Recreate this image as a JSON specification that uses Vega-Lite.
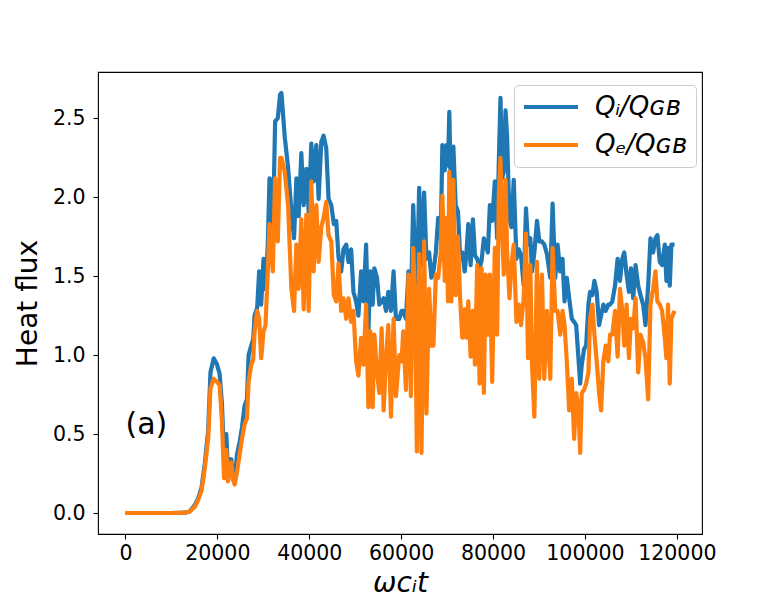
{
  "$schema": "https://vega.github.io/schema/vega-lite/v6.json",
  "width": 604,
  "height": 462,
  "autosize": {"type": "none"},
  "padding": {"left": 98, "top": 72, "right": 78, "bottom": 66},
  "background": "white",
  "config": {
    "font": "DejaVu Sans",
    "view": {"stroke": "black", "strokeWidth": 1.1},
    "axis": {
      "grid": false,
      "domain": false,
      "tickColor": "black",
      "tickWidth": 1.1,
      "tickSize": 5,
      "labelFontSize": 20.5,
      "labelColor": "black",
      "labelFont": "DejaVu Sans",
      "titleFont": "DejaVu Sans",
      "titleFontSize": 28,
      "titleFontWeight": "normal",
      "titleColor": "black"
    },
    "legend": {
      "orient": "none",
      "legendX": 416,
      "legendY": 13,
      "fillColor": "white",
      "strokeColor": "#cccccc",
      "cornerRadius": 4,
      "padding": 9,
      "labelFontSize": 26,
      "labelFont": "DejaVu Sans",
      "labelFontStyle": "italic",
      "labelColor": "black",
      "symbolType": "M-2.7,0H2.7",
      "symbolSize": 400,
      "symbolStrokeWidth": 4.2,
      "symbolOffset": 15,
      "labelOffset": 31,
      "rowPadding": 12
    }
  },
  "datasets": {
    "flux": [
      {"t": 0, "Qi": 0, "Qe": 0},
      {"t": 5000, "Qi": 0, "Qe": 0},
      {"t": 10000, "Qi": 0, "Qe": 0},
      {"t": 13000, "Qi": 0.002, "Qe": 0.002},
      {"t": 14000, "Qi": 0.01, "Qe": 0.01},
      {"t": 15100, "Qi": 0.05, "Qe": 0.04},
      {"t": 15800, "Qi": 0.09, "Qe": 0.08},
      {"t": 16550, "Qi": 0.16, "Qe": 0.14},
      {"t": 17260, "Qi": 0.31, "Qe": 0.28},
      {"t": 18000, "Qi": 0.52, "Qe": 0.47},
      {"t": 18500, "Qi": 0.89, "Qe": 0.79},
      {"t": 19200, "Qi": 0.98, "Qe": 0.85},
      {"t": 19930, "Qi": 0.94, "Qe": 0.83},
      {"t": 20500, "Qi": 0.88, "Qe": 0.81},
      {"t": 21000, "Qi": 0.69, "Qe": 0.58},
      {"t": 21450, "Qi": 0.37, "Qe": 0.22},
      {"t": 21950, "Qi": 0.5, "Qe": 0.4},
      {"t": 22300, "Qi": 0.27, "Qe": 0.2},
      {"t": 22680, "Qi": 0.34, "Qe": 0.26},
      {"t": 23050, "Qi": 0.34, "Qe": 0.32},
      {"t": 23400, "Qi": 0.24, "Qe": 0.21},
      {"t": 23770, "Qi": 0.19, "Qe": 0.18},
      {"t": 24270, "Qi": 0.37, "Qe": 0.26},
      {"t": 24850, "Qi": 0.45, "Qe": 0.37},
      {"t": 25350, "Qi": 0.54, "Qe": 0.47},
      {"t": 25930, "Qi": 0.68, "Qe": 0.56},
      {"t": 26440, "Qi": 0.72, "Qe": 0.6},
      {"t": 26800, "Qi": 1.0, "Qe": 0.83},
      {"t": 27370, "Qi": 1.06, "Qe": 0.94},
      {"t": 27800, "Qi": 1.1, "Qe": 0.97},
      {"t": 28100, "Qi": 1.25, "Qe": 1.15},
      {"t": 28670, "Qi": 1.3, "Qe": 1.28},
      {"t": 29100, "Qi": 1.53, "Qe": 1.23},
      {"t": 29540, "Qi": 1.32, "Qe": 0.98},
      {"t": 30050, "Qi": 1.61, "Qe": 1.15},
      {"t": 30480, "Qi": 1.42, "Qe": 1.19},
      {"t": 30980, "Qi": 1.7, "Qe": 1.53},
      {"t": 31350, "Qi": 2.12, "Qe": 1.83},
      {"t": 31700, "Qi": 2.1, "Qe": 1.7},
      {"t": 32070, "Qi": 1.74, "Qe": 1.53},
      {"t": 32570, "Qi": 2.48, "Qe": 2.12},
      {"t": 33150, "Qi": 2.5, "Qe": 1.72},
      {"t": 33650, "Qi": 2.65, "Qe": 2.25},
      {"t": 33950, "Qi": 2.66, "Qe": 2.25},
      {"t": 34670, "Qi": 2.38, "Qe": 2.16},
      {"t": 35390, "Qi": 2.19, "Qe": 1.95},
      {"t": 36110, "Qi": 1.91, "Qe": 1.42},
      {"t": 36690, "Qi": 1.74, "Qe": 1.28},
      {"t": 37200, "Qi": 2.12, "Qe": 1.7},
      {"t": 37700, "Qi": 1.88, "Qe": 1.42},
      {"t": 38280, "Qi": 2.28, "Qe": 1.86},
      {"t": 38790, "Qi": 1.95, "Qe": 1.29},
      {"t": 39370, "Qi": 2.18, "Qe": 1.89},
      {"t": 39870, "Qi": 1.91, "Qe": 1.28},
      {"t": 40450, "Qi": 2.34, "Qe": 2.1},
      {"t": 40950, "Qi": 2.1, "Qe": 1.53},
      {"t": 41540, "Qi": 2.33, "Qe": 1.95},
      {"t": 42040, "Qi": 1.99, "Qe": 1.59},
      {"t": 42620, "Qi": 2.35, "Qe": 1.81},
      {"t": 43120, "Qi": 2.39, "Qe": 1.87},
      {"t": 43700, "Qi": 2.31, "Qe": 1.97},
      {"t": 44200, "Qi": 1.99, "Qe": 1.76},
      {"t": 44790, "Qi": 1.95, "Qe": 1.72},
      {"t": 45350, "Qi": 1.83, "Qe": 1.38},
      {"t": 45870, "Qi": 1.85, "Qe": 1.34},
      {"t": 46370, "Qi": 1.62, "Qe": 1.58},
      {"t": 46950, "Qi": 1.53, "Qe": 1.28},
      {"t": 47450, "Qi": 1.67, "Qe": 1.36},
      {"t": 48040, "Qi": 1.7, "Qe": 1.23},
      {"t": 48540, "Qi": 1.59, "Qe": 1.36},
      {"t": 49120, "Qi": 1.67, "Qe": 1.21},
      {"t": 49620, "Qi": 1.4, "Qe": 1.28},
      {"t": 50200, "Qi": 1.34, "Qe": 0.96},
      {"t": 50700, "Qi": 1.25, "Qe": 0.87},
      {"t": 51290, "Qi": 1.53, "Qe": 1.11},
      {"t": 51790, "Qi": 1.34, "Qe": 0.94},
      {"t": 52370, "Qi": 1.7, "Qe": 1.32},
      {"t": 52870, "Qi": 1.15, "Qe": 0.67},
      {"t": 53300, "Qi": 1.53, "Qe": 1.15},
      {"t": 53800, "Qi": 1.32, "Qe": 0.67},
      {"t": 54170, "Qi": 1.55, "Qe": 1.13},
      {"t": 54750, "Qi": 1.49, "Qe": 0.89},
      {"t": 55250, "Qi": 1.32, "Qe": 0.76},
      {"t": 55750, "Qi": 1.34, "Qe": 1.17},
      {"t": 56190, "Qi": 1.36, "Qe": 0.65},
      {"t": 56700, "Qi": 1.28, "Qe": 0.98},
      {"t": 57200, "Qi": 1.4, "Qe": 1.19},
      {"t": 57790, "Qi": 1.28, "Qe": 0.61},
      {"t": 58350, "Qi": 1.53, "Qe": 1.23},
      {"t": 58870, "Qi": 1.23, "Qe": 0.74},
      {"t": 59590, "Qi": 1.23, "Qe": 1.0},
      {"t": 60090, "Qi": 1.28, "Qe": 0.96},
      {"t": 60450, "Qi": 1.28, "Qe": 1.15},
      {"t": 61040, "Qi": 1.23, "Qe": 0.78},
      {"t": 61600, "Qi": 1.53, "Qe": 1.51},
      {"t": 62120, "Qi": 1.32, "Qe": 0.74},
      {"t": 62620, "Qi": 1.95, "Qe": 1.68},
      {"t": 63050, "Qi": 1.61, "Qe": 1.32},
      {"t": 63420, "Qi": 1.4, "Qe": 0.39},
      {"t": 63920, "Qi": 2.06, "Qe": 1.64},
      {"t": 64420, "Qi": 1.57, "Qe": 0.38},
      {"t": 65000, "Qi": 2.03, "Qe": 1.72},
      {"t": 65500, "Qi": 1.61, "Qe": 0.63},
      {"t": 66090, "Qi": 1.65, "Qe": 1.42},
      {"t": 66590, "Qi": 1.49, "Qe": 1.06},
      {"t": 67020, "Qi": 1.53, "Qe": 1.06},
      {"t": 67550, "Qi": 1.65, "Qe": 1.51},
      {"t": 68050, "Qi": 1.87, "Qe": 1.49},
      {"t": 68620, "Qi": 1.74, "Qe": 1.65},
      {"t": 68970, "Qi": 2.33, "Qe": 2.01},
      {"t": 69490, "Qi": 2.17, "Qe": 1.47},
      {"t": 69840, "Qi": 2.33, "Qe": 1.87},
      {"t": 70200, "Qi": 2.2, "Qe": 1.34},
      {"t": 70480, "Qi": 2.54, "Qe": 2.16},
      {"t": 70930, "Qi": 1.87, "Qe": 1.34},
      {"t": 71360, "Qi": 2.32, "Qe": 2.11},
      {"t": 71870, "Qi": 1.95, "Qe": 1.38},
      {"t": 72370, "Qi": 1.91, "Qe": 1.75},
      {"t": 72800, "Qi": 1.65, "Qe": 1.38},
      {"t": 73300, "Qi": 1.65, "Qe": 1.11},
      {"t": 73820, "Qi": 1.53, "Qe": 1.29},
      {"t": 74170, "Qi": 1.63, "Qe": 1.11},
      {"t": 74610, "Qi": 1.83, "Qe": 1.34},
      {"t": 75120, "Qi": 1.57, "Qe": 0.99},
      {"t": 75620, "Qi": 1.86, "Qe": 1.28},
      {"t": 76060, "Qi": 1.63, "Qe": 0.94},
      {"t": 76550, "Qi": 1.61, "Qe": 1.57},
      {"t": 77070, "Qi": 1.55, "Qe": 0.82},
      {"t": 77510, "Qi": 1.6, "Qe": 1.55},
      {"t": 78000, "Qi": 1.74, "Qe": 0.76},
      {"t": 78370, "Qi": 1.7, "Qe": 1.51},
      {"t": 78870, "Qi": 1.65, "Qe": 1.13},
      {"t": 79310, "Qi": 1.95, "Qe": 1.51},
      {"t": 79810, "Qi": 1.85, "Qe": 0.83},
      {"t": 80390, "Qi": 2.1, "Qe": 1.68},
      {"t": 80890, "Qi": 1.74, "Qe": 1.13},
      {"t": 81250, "Qi": 2.22, "Qe": 2.01},
      {"t": 81620, "Qi": 2.63, "Qe": 2.25},
      {"t": 81980, "Qi": 2.12, "Qe": 1.79},
      {"t": 82340, "Qi": 2.16, "Qe": 1.51},
      {"t": 82710, "Qi": 2.55, "Qe": 2.11},
      {"t": 83060, "Qi": 2.38, "Qe": 1.65},
      {"t": 83570, "Qi": 1.87, "Qe": 1.36},
      {"t": 84010, "Qi": 1.81, "Qe": 1.57},
      {"t": 84500, "Qi": 2.11, "Qe": 1.7},
      {"t": 85090, "Qi": 1.61, "Qe": 1.21},
      {"t": 85590, "Qi": 1.67, "Qe": 1.32},
      {"t": 86090, "Qi": 1.63, "Qe": 1.19},
      {"t": 86670, "Qi": 1.44, "Qe": 1.36},
      {"t": 87170, "Qi": 1.93, "Qe": 1.77},
      {"t": 87610, "Qi": 1.7, "Qe": 0.98},
      {"t": 88120, "Qi": 1.74, "Qe": 1.57},
      {"t": 88480, "Qi": 1.53, "Qe": 0.94},
      {"t": 88990, "Qi": 1.65, "Qe": 0.61},
      {"t": 89560, "Qi": 1.85, "Qe": 1.59},
      {"t": 90070, "Qi": 1.72, "Qe": 0.85},
      {"t": 90640, "Qi": 1.72, "Qe": 1.51},
      {"t": 91150, "Qi": 1.7, "Qe": 0.85},
      {"t": 91720, "Qi": 1.64, "Qe": 1.28},
      {"t": 92450, "Qi": 1.49, "Qe": 0.85},
      {"t": 92960, "Qi": 1.96, "Qe": 1.68},
      {"t": 93540, "Qi": 1.49, "Qe": 1.28},
      {"t": 94040, "Qi": 1.7, "Qe": 1.28},
      {"t": 94620, "Qi": 1.53, "Qe": 1.13},
      {"t": 95120, "Qi": 1.61, "Qe": 1.28},
      {"t": 95560, "Qi": 1.34, "Qe": 1.19},
      {"t": 96050, "Qi": 1.49, "Qe": 0.96},
      {"t": 96570, "Qi": 1.36, "Qe": 0.65},
      {"t": 97140, "Qi": 1.23, "Qe": 0.85},
      {"t": 97650, "Qi": 1.21, "Qe": 0.47},
      {"t": 98090, "Qi": 1.19, "Qe": 0.76},
      {"t": 98590, "Qi": 0.98, "Qe": 0.67},
      {"t": 98960, "Qi": 0.82, "Qe": 0.38},
      {"t": 99310, "Qi": 0.94, "Qe": 0.76},
      {"t": 99820, "Qi": 1.04, "Qe": 0.78},
      {"t": 100260, "Qi": 1.06, "Qe": 0.82},
      {"t": 100760, "Qi": 1.32, "Qe": 0.89},
      {"t": 101120, "Qi": 1.4, "Qe": 1.23},
      {"t": 101620, "Qi": 1.38, "Qe": 1.32},
      {"t": 102060, "Qi": 1.47, "Qe": 1.13},
      {"t": 102560, "Qi": 1.4, "Qe": 0.96},
      {"t": 103080, "Qi": 1.19, "Qe": 0.76},
      {"t": 103510, "Qi": 1.25, "Qe": 0.65},
      {"t": 104000, "Qi": 1.32, "Qe": 0.96},
      {"t": 104510, "Qi": 1.28, "Qe": 1.06},
      {"t": 105090, "Qi": 1.32, "Qe": 0.96},
      {"t": 105460, "Qi": 1.32, "Qe": 1.13},
      {"t": 105960, "Qi": 1.34, "Qe": 1.13},
      {"t": 106550, "Qi": 1.44, "Qe": 1.28},
      {"t": 107110, "Qi": 1.61, "Qe": 0.99},
      {"t": 107620, "Qi": 1.47, "Qe": 1.42},
      {"t": 108120, "Qi": 1.61, "Qe": 1.28},
      {"t": 108560, "Qi": 1.65, "Qe": 1.06},
      {"t": 109060, "Qi": 1.51, "Qe": 1.32},
      {"t": 109580, "Qi": 1.4, "Qe": 0.98},
      {"t": 110010, "Qi": 1.55, "Qe": 1.23},
      {"t": 110510, "Qi": 1.36, "Qe": 1.17},
      {"t": 111010, "Qi": 1.57, "Qe": 1.36},
      {"t": 111590, "Qi": 1.44, "Qe": 0.89},
      {"t": 112090, "Qi": 1.38, "Qe": 1.13},
      {"t": 112670, "Qi": 1.32, "Qe": 1.08},
      {"t": 113170, "Qi": 1.19, "Qe": 0.98},
      {"t": 113760, "Qi": 1.44, "Qe": 0.72},
      {"t": 114260, "Qi": 1.74, "Qe": 1.32},
      {"t": 114840, "Qi": 1.65, "Qe": 1.42},
      {"t": 115340, "Qi": 1.74, "Qe": 1.53},
      {"t": 115770, "Qi": 1.76, "Qe": 1.34},
      {"t": 116290, "Qi": 1.59, "Qe": 1.32},
      {"t": 116790, "Qi": 1.57, "Qe": 1.28},
      {"t": 117380, "Qi": 1.7, "Qe": 1.11},
      {"t": 117730, "Qi": 1.47, "Qe": 0.98},
      {"t": 118090, "Qi": 1.68, "Qe": 1.32},
      {"t": 118460, "Qi": 1.44, "Qe": 0.82},
      {"t": 118810, "Qi": 1.7, "Qe": 1.23},
      {"t": 119500, "Qi": 1.7, "Qe": 1.28}
    ]
  },
  "layer": [
    {
      "data": {"name": "flux"},
      "mark": {"type": "line", "strokeWidth": 4.2, "strokeJoin": "round", "clip": true},
      "encoding": {
        "x": {
          "field": "t",
          "type": "quantitative",
          "title": "ωcᵢt",
          "scale": {"domain": [-5975, 125475], "nice": false, "zero": false},
          "axis": {
            "values": [0, 20000, 40000, 60000, 80000, 100000, 120000],
            "format": "d",
            "labelPadding": 4,
            "titlePadding": 6,
            "titleFontStyle": "italic",
            "labelFlush": false
          }
        },
        "y": {
          "field": "Qi",
          "type": "quantitative",
          "title": "Heat flux",
          "scale": {"domain": [-0.133, 2.793], "nice": false, "zero": false},
          "axis": {
            "values": [0, 0.5, 1, 1.5, 2, 2.5],
            "format": ".1f",
            "labelPadding": 8,
            "titlePadding": 10
          }
        },
        "color": {
          "datum": "Qi",
          "type": "nominal",
          "scale": {"domain": ["Qi", "Qe"], "range": ["#1f77b4", "#ff7f0e"]},
          "legend": {
            "title": null,
            "labelExpr": "datum.label == 'Qi' ? 'Qᵢ/Qɢʙ' : 'Qₑ/Qɢʙ'"
          }
        }
      }
    },
    {
      "data": {"name": "flux"},
      "mark": {"type": "line", "strokeWidth": 4.2, "strokeJoin": "round", "clip": true},
      "encoding": {
        "x": {"field": "t", "type": "quantitative", "title": "ωcᵢt"},
        "y": {"field": "Qe", "type": "quantitative", "title": "Heat flux"},
        "color": {"datum": "Qe", "type": "nominal"}
      }
    },
    {
      "data": {"values": [{"t": 0, "q": 0.5, "label": "(a)"}]},
      "mark": {"type": "text", "align": "left", "baseline": "alphabetic", "fontSize": 30, "font": "DejaVu Sans", "color": "black"},
      "encoding": {
        "x": {"field": "t", "type": "quantitative", "title": "ωcᵢt"},
        "y": {"field": "q", "type": "quantitative", "title": "Heat flux"},
        "text": {"field": "label"}
      }
    }
  ]
}
